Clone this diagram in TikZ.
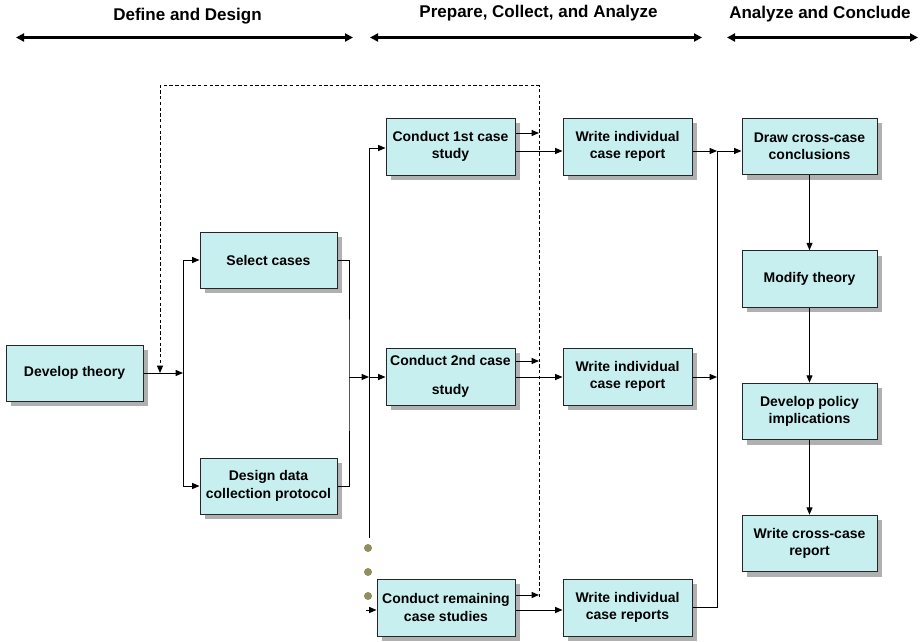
\documentclass[tikz,border=0pt]{standalone}
\usepackage{fontspec}
\setmainfont{Liberation Sans}
\usetikzlibrary{arrows.meta,shadows}
\definecolor{boxfill}{RGB}{200,239,239}
\definecolor{dotcol}{RGB}{143,143,95}
\definecolor{shadowcol}{RGB}{176,176,176}
\begin{document}
\begin{tikzpicture}[x=0.75pt,y=-0.75pt,
  box/.style={draw=black!85, fill=boxfill, line width=0.75pt, align=center, inner sep=0pt,
    font=\bfseries\fontsize{10.5}{13}\selectfont,
    general shadow={fill=shadowcol, shadow xshift=3.75pt, shadow yshift=-3.75pt}},
  wA/.style={minimum width=102.75pt, minimum height=42pt},
  wB/.style={minimum width=96.75pt, minimum height=42.75pt},
  wC/.style={minimum width=103.5pt, minimum height=42.75pt},
  wD/.style={minimum width=101.25pt, minimum height=42.5pt},
  hdrtext/.style={font=\bfseries\fontsize{12.75}{15}\selectfont, inner sep=0pt},
  hdr/.style={line width=1.6pt, {Triangle[length=6pt,width=6pt]}-{Triangle[length=6pt,width=6pt]}},
  con/.style={line width=0.75pt, -{Triangle[length=5.5pt,width=4.5pt]}},
  plain/.style={line width=0.75pt},
  dashline/.style={line width=0.75pt, dash pattern=on 2.5pt off 1.8pt},
  dot/.style={circle, fill=dotcol, inner sep=0pt, minimum size=6pt}]
\useasboundingbox (0,0) rectangle (921,642);

% header
\node[hdrtext] (h1) at (187.5,16) {Define and Design};
\node[hdrtext] (h2) at (538.5,13.5) {Prepare, Collect, and Analyze};
\node[hdrtext] (h3) at (820,14) {Analyze and Conclude};
\coordinate (a1l) at (16,37.5); \coordinate (a1r) at (353,37.5);
\coordinate (a2l) at (370,37.5); \coordinate (a2r) at (702,37.5);
\coordinate (a3l) at (727,37.5); \coordinate (a3r) at (918,37.5);
\draw[hdr] (a1l) -- (a1r);
\draw[hdr] (a2l) -- (a2r);
\draw[hdr] (a3l) -- (a3r);

% boxes
\node[box,wA] (dt) at (74.5,373) {Develop theory};
\node[box,wA] (sc) at (268.5,260) {Select cases};
\node[box,wA] (dd) at (268.5,486) {Design data\\collection protocol};
\node[box,wB] (c1) at (450.5,146.5) {Conduct 1st case\\study};
\node[box,wB] (w1) at (627.5,146.5) {Write individual\\case report};
\node[box,wB] (c2) at (450.5,376.5) {Conduct 2nd case\\[9pt]study};
\node[box,wB] (w2) at (627.5,376.5) {Write individual\\case report};
\node[box,wC] (cr) at (446,607.5) {Conduct remaining\\case studies};
\node[box,wB] (wr) at (627.5,607.5) {Write individual\\case reports};
\node[box,wD] (r1) at (809.5,146.5) {Draw cross-case\\conclusions};
\node[box,wD] (r2) at (809.5,279) {Modify theory};
\node[box,wD] (r3) at (809.5,411.5) {Develop policy\\implications};
\node[box,wD] (r4) at (809.5,543.5) {Write cross-case\\report};

% left part
\coordinate (jL) at (183,373);
\coordinate (jLt) at (183,260);
\coordinate (jLb) at (183,486);
\draw[con] (dt.east) -- (jL);
\draw[plain] (jLt) -- (jLb);
\draw[con] (jLt) -- (sc.west);
\draw[con] (jLb) -- (dd.west);
\coordinate (jM) at (349,377);
\draw[plain] (sc.east) -| (jM) |- (dd.east);
\coordinate (jV) at (369,377);
\draw[con] (jM) -- (jV);
\draw[con] (jV) -- (c2.west |- jV);
\coordinate (vtop) at (369,148);
\coordinate (vbot) at (369,538);
\draw[plain] (vbot) -- (vtop);
\draw[con] (vtop) -- (c1.west |- vtop);
\node[dot] (d1) at (368,548) {};
\node[dot] (d2) at (368,572) {};
\node[dot] (d3) at (368,596) {};
\coordinate (crin) at (366,610);
\draw[con] (crin) -- (cr.west |- crin);

% dashed feedback
\coordinate (dB) at (539,597);
\coordinate (dTR) at (539,86);
\coordinate (dTL) at (160,86);
\coordinate (dT) at (160,373);
\draw[dashline, -{Triangle[length=5.5pt,width=4.5pt]}] (dB) -- (dTR) -- (dTL) -- (dT);
\coordinate (e1) at (539,133);
\coordinate (e2) at (539,361);
\coordinate (e3) at (539,595);
\draw[con] (c1.east |- e1) -- (e1);
\draw[con] (c2.east |- e2) -- (e2);
\draw[con] (cr.east |- e3) -- (e3);

% conduct -> write
\coordinate (y1) at (540,151);
\coordinate (y2) at (540,377);
\coordinate (y3) at (540,610);
\draw[con] (c1.east |- y1) -- (w1.west |- y1);
\draw[con] (c2.east |- y2) -- (w2.west |- y2);
\draw[con] (cr.east |- y3) -- (wr.west |- y3);

% write -> cross-case
\coordinate (rj1) at (717,151);
\coordinate (rj2) at (717,377);
\coordinate (rj3) at (717,607);
\draw[con] (w1.east |- rj1) -- (rj1);
\draw[con] (rj1) -- (r1.west |- rj1);
\draw[con] (w2.east |- rj2) -- (rj2);
\draw[plain] (wr.east |- rj3) -- (rj3) -- (rj1);

% right column
\draw[con] (r1.south) -- (r2.north);
\draw[con] (r2.south) -- (r3.north);
\draw[con] (r3.south) -- (r4.north);
\end{tikzpicture}
\end{document}
